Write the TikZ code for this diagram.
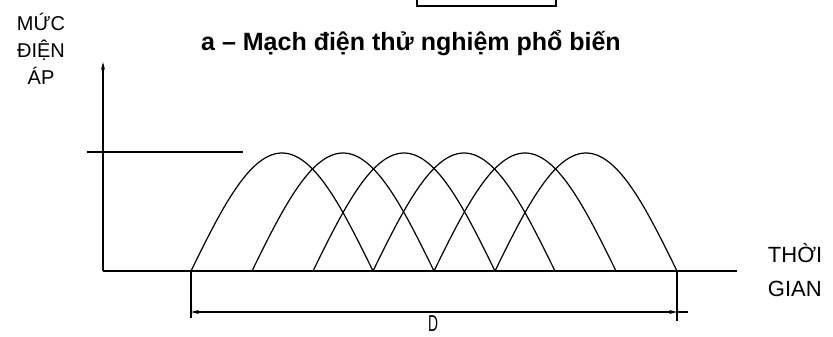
\documentclass[tikz,border=0pt]{standalone}
\usepackage{fontspec}
\setmainfont{Liberation Sans}
\usetikzlibrary{arrows.meta}
\newcommand{\archwidth}{182}
\newcommand{\archheight}{118}
\newcommand{\baseY}{271}
\newcommand{\labelsize}{\fontsize{20}{27}\selectfont}
\newcommand{\timesize}{\fontsize{22}{34}\selectfont}
\newcommand{\titlesize}{\fontsize{25}{28}\selectfont\bfseries}

\begin{document}
\begin{tikzpicture}[x=1pt,y=-1pt,line width=1.2pt,
  axisarrow/.style={-{Stealth[length=8pt,width=4pt]}},
  dimarrow/.style={{Stealth[length=8pt,width=4pt]}-{Stealth[length=8pt,width=4pt]}},
  arch/.style={line width=1.2pt}]
\useasboundingbox (0,0) rectangle (833,337);

% Circuit box (cut off at the top)
\draw (417,-6) rectangle (556,6);

% Title
\node (title) [font=\titlesize] at (411,43) {a -- Mạch điện thử nghiệm phổ biến};

% Axes
\coordinate (O) at (103,\baseY);
\coordinate (Ytop) at (103,62);
\coordinate (Xend) at (737,\baseY);
\draw[axisarrow] (O) -- (Ytop);
\draw (O) -- (Xend);

% Voltage level mark
\coordinate (Lstart) at (87,152);
\coordinate (Lend) at (243,152);
\draw (Lstart) -- (Lend);

% Arches
\draw[arch] plot[domain=0:\archwidth,samples=60] ({191+\x},{\baseY-\archheight*sin(\x/\archwidth*180)});
\draw[arch] plot[domain=0:\archwidth,samples=60] ({252+\x},{\baseY-\archheight*sin(\x/\archwidth*180)});
\draw[arch] plot[domain=0:\archwidth,samples=60] ({313+\x},{\baseY-\archheight*sin(\x/\archwidth*180)});
\draw[arch] plot[domain=0:\archwidth,samples=60] ({373+\x},{\baseY-\archheight*sin(\x/\archwidth*180)});
\draw[arch] plot[domain=0:\archwidth,samples=60] ({434+\x},{\baseY-\archheight*sin(\x/\archwidth*180)});
\draw[arch] plot[domain=0:\archwidth,samples=60] ({495+\x},{\baseY-\archheight*sin(\x/\archwidth*180)});

% Duration D
\coordinate (Dl) at (191,\baseY);
\coordinate (Dlb) at (191,318);
\coordinate (Dr) at (677,\baseY);
\coordinate (Drb) at (677,321);
\coordinate (Dla) at (191,312);
\coordinate (Dra) at (677,312);
\coordinate (Dext) at (688,312);
\draw (Dl) -- (Dlb);
\draw (Dr) -- (Drb);
\draw[dimarrow] (Dla) -- (Dra);
\draw (Dra) -- (Dext);
\node (dlabel) [font=\fontsize{23}{23}\selectfont,xscale=0.6,inner sep=0pt] at (433,324) {D};

% Axis labels
\node (ylabel) [font=\labelsize,align=center] at (41,49) {MỨC\\ĐIỆN\\ÁP};
\node (xlabel) [font=\timesize,align=left,anchor=west] at (764,270) {THỜI\\GIAN};

\end{tikzpicture}
\end{document}
